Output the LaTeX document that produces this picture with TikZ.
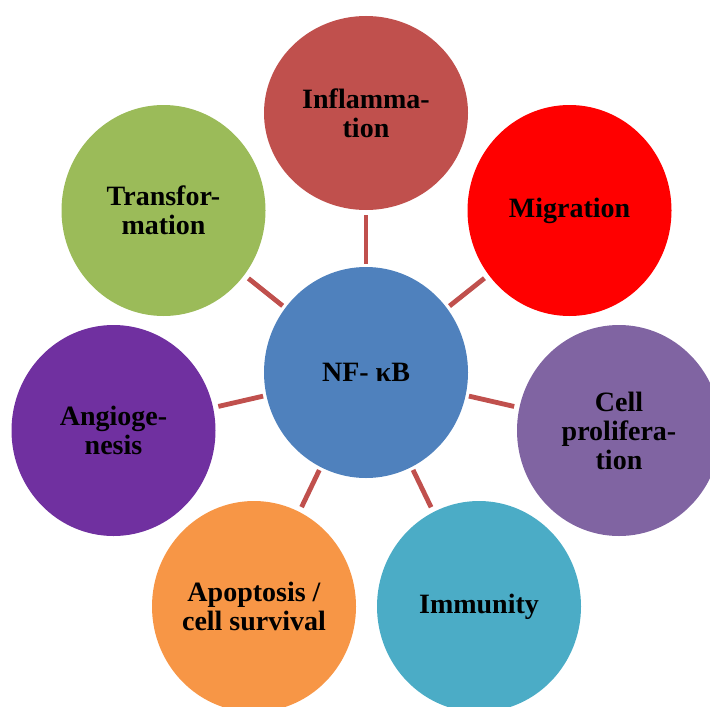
\documentclass[tikz,border=0pt]{standalone}
\usepackage{fontspec}
\setmainfont{Liberation Serif}
\usetikzlibrary{shapes.geometric}

\definecolor{nfblue}{HTML}{4F81BD}
\definecolor{inflred}{HTML}{C0504D}
\definecolor{migrred}{HTML}{FF0000}
\definecolor{prolifpurple}{HTML}{8064A2}
\definecolor{immuncyan}{HTML}{4BACC6}
\definecolor{apoptorange}{HTML}{F79646}
\definecolor{angioviolet}{HTML}{7030A0}
\definecolor{transfgreen}{HTML}{9BBB59}

\begin{document}
\begin{tikzpicture}[x=0.5pt, y=-0.5pt,
    bubble/.style={ellipse, inner sep=0pt, minimum width=102pt, minimum height=105.5pt,
        align=center, font=\fontsize{14}{14.5}\selectfont\bfseries},
    link/.style={draw=inflred, line width=2.4pt, shorten <=1.5pt, shorten >=2.5pt}]
    \clip (0,0) rectangle (710,706);

    \node[bubble, fill=nfblue] (nf) at (366,372.5) {NF- κB};
    \node[bubble, fill=inflred, minimum height=97pt] (infl) at (366,113) {Inflamma-\\tion};
    \node[bubble, fill=migrred] (migr) at (569.5,210.5) {Migration};
    \node[bubble, fill=prolifpurple] (prolif) at (619,430.5) {Cell\\prolifera-\\tion};
    \node[bubble, fill=immuncyan] (immun) at (479,606.5) {Immunity};
    \node[bubble, fill=apoptorange] (apopt) at (254,606.5) {Apoptosis /\\cell survival};
    \node[bubble, fill=angioviolet] (angio) at (113.5,430.5) {Angioge-\\nesis};
    \node[bubble, fill=transfgreen] (transf) at (163.5,210.5) {Transfor-\\mation};

    \path[link]
    (nf) edge (infl)
        (nf) edge (migr)
    (nf) edge (prolif)
        (nf) edge (immun)
    (nf) edge (apopt)
        (nf) edge (angio)
    (nf) edge (transf);
\end{tikzpicture}
\end{document}
